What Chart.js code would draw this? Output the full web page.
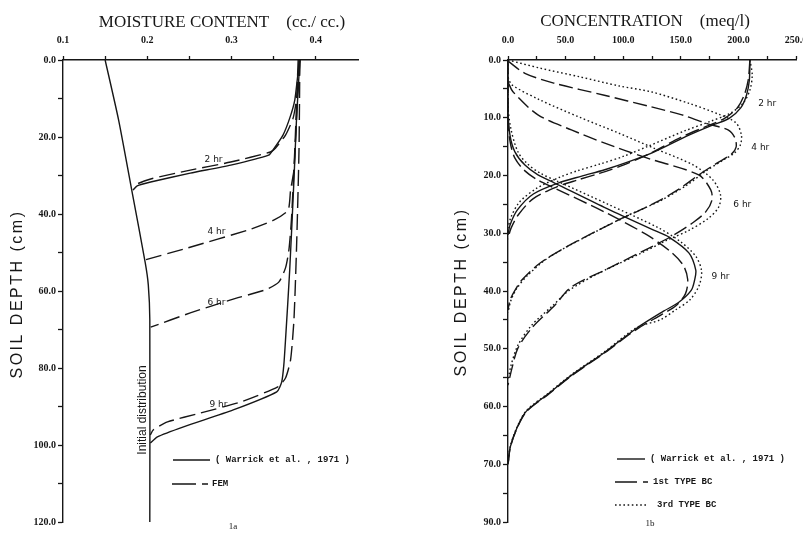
<!DOCTYPE html>
<html>
<head>
<meta charset="utf-8">
<script src="https://cdn.jsdelivr.net/npm/chart.js@4.4.0/dist/chart.umd.min.js"></script>
<style>
  html, body { margin: 0; padding: 0; background: #fff; overflow: hidden; }
  body { width: 803px; height: 535px; position: relative; }
  canvas { position: absolute; top: 0; }
  #chartA { left: 0; }
  #chartB { left: 400px; }
</style>
</head>
<body>
<canvas id="chartA" width="400" height="535"></canvas>
<canvas id="chartB" width="430" height="535"></canvas>
<script>
const INK = '#161616';

// ===== 1a : moisture content (cc/cc) vs depth (cm), pairs [theta, depth] =====
const initialA   = [[0.150,0],[0.166,15.6],[0.182,34.3],[0.1976,52.7],[0.2012,58.4],[0.203,67.5],[0.203,120]];
const warrick2hA = [[0.381,0],[0.3786,3.9],[0.375,10.4],[0.369,15.1],[0.361,19.5],[0.349,23.4],[0.344,24.7],[0.299,27.3],[0.251,29.4],[0.204,31.7],[0.188,32.7],[0.183,33.8]];
const fem2hA     = [[0.381,0],[0.380,5.2],[0.377,10.4],[0.373,15.1],[0.364,19.5],[0.352,22.9],[0.346,23.9],[0.299,26.5],[0.251,28.6],[0.204,30.9],[0.188,32.2],[0.185,33.2]];
const fem4hA     = [[0.380,0],[0.377,15.6],[0.374,28.6],[0.370,33.8],[0.367,39],[0.350,41.6],[0.319,44.2],[0.248,48.8],[0.198,51.9]];
const fem6hA     = [[0.379,0],[0.375,23.4],[0.371,41.6],[0.368,49.4],[0.364,54],[0.356,57.7],[0.340,59.7],[0.299,62.3],[0.251,65.7],[0.204,69.4]];
const warrick9hA = [[0.381,0],[0.377,15.6],[0.374,31.2],[0.369,54.5],[0.364,72.7],[0.362,79.2],[0.3595,83.6],[0.3536,86.2],[0.302,90.9],[0.243,95.3],[0.212,97.9],[0.2036,99.5]];
const fem9hA     = [[0.381,0],[0.380,23.4],[0.377,49.4],[0.374,67.5],[0.370,77.9],[0.364,82.6],[0.3548,84.9],[0.311,88.8],[0.263,91.7],[0.224,94],[0.207,96.1],[0.2036,97.4]];

const xLabelsA = ['0.1', '0.2', '0.3', '0.4'];
const yLabelsA = ['0.0', '20.0', '40.0', '60.0', '80.0', '100.0', '120.0'];

// ===== 1b : concentration (meq/l) vs depth (cm), pairs [conc, depth] =====
const warrick2hB = [[210,0],[209.5,3.5],[207,6.1],[202,8.3],[192,10.1],[177,11.3],[157,13],[127,15.9],[105,17.6],[84,19],[64,20.1],[45,21.2],[22,23.2],[8,26],[1.7,28.6],[0,30.3]];
const first2hB   = [[210,0],[208.5,3.5],[205,6.1],[199,8.3],[188,10.1],[172,11.5],[150,13.4],[122,16.3],[100,18.2],[80,19.6],[60,20.8],[42,22],[22,24],[9,26.8],[2.5,29.2],[0,31]];
const third2hB   = [[210,0],[212,2.6],[210,5.2],[204,7.5],[193,9.2],[176,10.6],[153,12.3],[122,14.9],[100,16.7],[80,18],[60,19.2],[45,20.3],[25,22.2],[10,24.6],[2.6,27.2],[0,29.1]];
const first4hB   = [[0,0.2],[14.7,2.3],[39.7,4],[83.6,6.1],[124,8.1],[151,9.5],[174,11.1],[191,12.1],[197,13.5],[198,15.1],[194,16.3],[181,17.9],[165.5,19.9],[148,22.4],[127,24.8],[92,28.1],[53,32.1],[27.6,35.2],[12,38.1],[6,39.9],[1.7,41.6],[0,43.3]];
const third4hB   = [[0,0],[27.6,1.4],[62,2.9],[96.6,4.5],[124,5.5],[157,7.5],[183,9.4],[198,10.9],[202.6,13],[201.7,14.7],[196.6,16.1],[187,17.3],[172,19.2],[155,21.7],[133,24.3],[101,27.2],[62,31.2],[34.5,34.3],[17,37.3],[7.8,39.5],[2.6,41.6],[0,43.7]];
const first6hB   = [[0,3.8],[4.3,5.5],[26,9.5],[55,12.1],[84,14.4],[121,17],[165.5,19.9],[176,22.5],[177,24.3],[171.6,26.3],[161,28.1],[144,30.3],[122,32.6],[88,36],[55,39.3],[40.5,42.5],[20.7,46.4],[8.6,49.9],[3.4,53.4],[0,56.3]];
const third6hB   = [[0,3],[3.4,4.3],[27.6,6.9],[62,9.9],[96.6,12.7],[127,15.3],[161,18.2],[178,20.8],[184.5,23.4],[182.8,25.5],[174,27.4],[157,29.5],[138,31.2],[114,33.6],[79,36.9],[53,39.9],[39,42.5],[20.7,45.9],[8.6,49.4],[2.6,52.9],[0,55.5]];
const warrick9hB = [[0,0],[0,8.7],[1.7,13],[6,15.9],[14.7,18.2],[26,19.9],[40.5,21.3],[83.6,25.5],[127,29.5],[140,30.7],[157,33.4],[163,36.4],[162,38.1],[159,39.9],[148,42],[135,43.5],[112,46.4],[84,50.6],[55,54.6],[35,57.8],[16,60.8],[8,63.6],[2,67],[0,70]];
const first9hB   = [[0,0],[0,9.5],[1.7,14],[6,17],[14.7,19.2],[26,20.8],[40.5,22.2],[83.6,26.3],[120,30.2],[140,33],[152,35.5],[156,38],[154,40.5],[146,42.5],[134,44],[112,46.6],[84,50.7],[55,54.7],[35,57.9],[16,60.9],[8,63.7],[2,67.1],[0,70.2]];
const third9hB   = [[0,0],[0,8],[2.6,12],[8.6,15.9],[17,18],[28,19.6],[43,21],[87,25],[130,29],[150,31.5],[163,34],[168,36.5],[166,39],[158,41.5],[146,43.2],[132,45],[112,46.3],[84,50.5],[55,54.5],[35,57.7],[16,60.7],[8,63.5],[2,66.9],[0,70]];

const xLabelsB = ['0.0', '50.0', '100.0', '150.0', '200.0', '250.0'];
const yLabelsB = ['0.0', '10.0', '20.0', '30.0', '40.0', '50.0', '60.0', '70.0', '90.0'];

const FEM_DASH = [16, 6];
const FIRST_DASH = [14, 5];
const DOTS = [1.6, 2.6];

function line(points, dash, tension) {
  return {
    data: points.map(p => ({ x: p[0], y: p[1] })),
    showLine: true,
    borderColor: INK,
    borderWidth: 1.4,
    borderDash: dash || [],
    pointRadius: 0,
    fill: false,
    tension: tension === undefined ? 0.3 : tension
  };
}

// text, legend samples and titles (kept in a closure, not in plugin options)
function makeAnnotate(spec) {
  return {
    id: 'annotate',
    afterDraw(chart) {
      const ctx = chart.ctx;
      const xs = chart.scales.x, ys = chart.scales.y;
      ctx.save();
      ctx.fillStyle = INK;
      ctx.strokeStyle = INK;

      spec.samples.forEach(s => {
        ctx.beginPath();
        ctx.lineWidth = 1.4;
        ctx.setLineDash(s.dash || []);
        ctx.moveTo(s.x1, s.y);
        ctx.lineTo(s.x2, s.y);
        ctx.stroke();
      });
      ctx.setLineDash([]);

      spec.texts.forEach(t => {
        ctx.save();
        ctx.font = t.font;
        ctx.textAlign = t.align || 'center';
        ctx.textBaseline = 'middle';
        if ('letterSpacing' in ctx) ctx.letterSpacing = t.spacing || '0px';
        let px, py;
        if (t.at) {
          px = xs.getPixelForValue(t.at[0]);
          py = ys.getPixelForValue(t.at[1]);
        } else {
          px = t.px[0];
          py = t.px[1];
        }
        ctx.translate(px, py);
        if (t.rotate) ctx.rotate(t.rotate);
        ctx.fillText(t.text, 0, 0);
        ctx.restore();
      });
      ctx.restore();
    }
  };
}

const TICK_FONT = { family: 'Liberation Serif', size: 10, weight: 'bold' };

// every other tick gets a label, picked by value (reverse flips tick order)
function labelFor(labels, min, step) {
  return v => {
    const k = Math.round((v - min) / step);
    return k % 2 === 0 ? (labels[k / 2] || '') : '';
  };
}

function makeOptions(cfg) {
  return {
    responsive: false,
    animation: false,
    devicePixelRatio: 1,
    layout: { padding: cfg.padding },
    plugins: {
      legend: { display: false },
      tooltip: { enabled: false }
    },
    scales: {
      x: {
        type: 'linear',
        position: 'top',
        min: cfg.xMin, max: cfg.xMax,
        grid: { drawOnChartArea: false, drawTicks: true, tickLength: 4, tickColor: INK, tickWidth: 1.3 },
        border: { display: true, color: INK, width: 1.4 },
        ticks: {
          stepSize: cfg.xStep,
          autoSkip: false,
          maxRotation: 0,
          padding: 10,
          color: INK,
          font: TICK_FONT,
          callback: labelFor(cfg.xLabels, cfg.xMin, cfg.xStep)
        },
        afterBuildTicks: s => { s.ticks = s.ticks.filter(t => t.value <= cfg.xLastTick + 1e-9); },
        afterFit: s => { s.height = 60; }
      },
      y: {
        type: 'linear',
        reverse: true,
        min: cfg.yMin, max: cfg.yMax,
        grid: { drawOnChartArea: false, drawTicks: true, tickLength: 5, tickColor: INK, tickWidth: 1.3 },
        border: { display: true, color: INK, width: 1.4 },
        ticks: {
          stepSize: cfg.yStep,
          autoSkip: false,
          padding: 2,
          color: INK,
          font: TICK_FONT,
          callback: labelFor(cfg.yLabels, cfg.yMin, cfg.yStep)
        },
        afterFit: s => { s.width = cfg.yWidth; }
      }
    }
  };
}

const LABEL_FONT = '9px "DejaVu Sans"';
const LEGEND_FONT = 'bold 9px "Liberation Mono"';
const TITLE_FONT = '17px "Liberation Serif"';
const YTITLE_FONT = '16px "Liberation Sans"';

// ===== 1a =====
new Chart(document.getElementById('chartA'), {
  type: 'scatter',
  data: {
    datasets: [
      line(initialA, [], 0.2),
      line(warrick2hA, [], 0.2),
      line(fem2hA, FEM_DASH, 0.2),
      line(fem4hA, FEM_DASH, 0.2),
      line(fem6hA, FEM_DASH, 0.2),
      line(warrick9hA, [], 0.2),
      line(fem9hA, FEM_DASH, 0.2)
    ]
  },
  options: makeOptions({
    padding: { top: 0, left: 0, right: 42, bottom: 13 },
    xMin: 0.1, xMax: 0.45, xStep: 0.05, xLastTick: 0.4, xLabels: xLabelsA,
    yMin: 0, yMax: 120, yStep: 10, yLabels: yLabelsA, yWidth: 63
  }),
  plugins: [makeAnnotate({
    samples: [
      { x1: 173, x2: 210, y: 460 },
      { x1: 172, x2: 208, y: 484, dash: [24, 6] }
    ],
    texts: [
      { text: 'MOISTURE CONTENT    (cc./ cc.)', px: [222, 23], font: TITLE_FONT },
      { text: 'SOIL DEPTH (cm)', px: [18, 294], font: YTITLE_FONT, rotate: -Math.PI / 2, spacing: '2.5px' },
      { text: 'Initial distribution', px: [143, 410], font: '12px "Liberation Sans"', rotate: -Math.PI / 2 },
      { text: '2 hr', at: [0.2786, 26], font: LABEL_FONT },
      { text: '4 hr', at: [0.282, 44.7], font: LABEL_FONT },
      { text: '6 hr', at: [0.282, 62.9], font: LABEL_FONT },
      { text: '9 hr', at: [0.2845, 89.6], font: LABEL_FONT },
      { text: '( Warrick et al. , 1971 )', px: [215, 460], font: LEGEND_FONT, align: 'left' },
      { text: 'FEM', px: [212, 484], font: LEGEND_FONT, align: 'left' },
      { text: '1a', px: [233, 527], font: '9px "Liberation Serif"' }
    ]
  })]
});

// ===== 1b =====
new Chart(document.getElementById('chartB'), {
  type: 'scatter',
  data: {
    datasets: [
      line(warrick2hB, []),
      line(first2hB, FIRST_DASH),
      line(third2hB, DOTS),
      line(first4hB, FIRST_DASH),
      line(third4hB, DOTS),
      line(first6hB, FIRST_DASH),
      line(third6hB, DOTS),
      line(warrick9hB, []),
      line(first9hB, FIRST_DASH),
      line(third9hB, DOTS)
    ]
  },
  options: makeOptions({
    padding: { top: 0, left: 0, right: 34, bottom: 13 },
    xMin: 0, xMax: 250, xStep: 25, xLastTick: 250, xLabels: xLabelsB,
    yMin: 0, yMax: 80, yStep: 5, yLabels: yLabelsB, yWidth: 108
  }),
  plugins: [makeAnnotate({
    samples: [
      { x1: 217, x2: 245, y: 459 },
      { x1: 215, x2: 248, y: 482, dash: [22, 6] },
      { x1: 215, x2: 248, y: 505, dash: DOTS }
    ],
    texts: [
      { text: 'CONCENTRATION    (meq/l)', px: [245, 22], font: TITLE_FONT },
      { text: 'SOIL DEPTH (cm)', px: [62, 292], font: YTITLE_FONT, rotate: -Math.PI / 2, spacing: '2.5px' },
      { text: '2 hr', at: [225, 7.5], font: LABEL_FONT },
      { text: '4 hr', at: [219, 15.1], font: LABEL_FONT },
      { text: '6 hr', at: [203.4, 25.1], font: LABEL_FONT },
      { text: '9 hr', at: [184.5, 37.6], font: LABEL_FONT },
      { text: '( Warrick et al. , 1971 )', px: [250, 459], font: LEGEND_FONT, align: 'left' },
      { text: '1st TYPE BC', px: [253, 482], font: LEGEND_FONT, align: 'left' },
      { text: '3rd TYPE BC', px: [257, 505], font: LEGEND_FONT, align: 'left' },
      { text: '1b', px: [250, 524], font: '9px "Liberation Serif"' }
    ]
  })]
});
</script>
</body>
</html>
